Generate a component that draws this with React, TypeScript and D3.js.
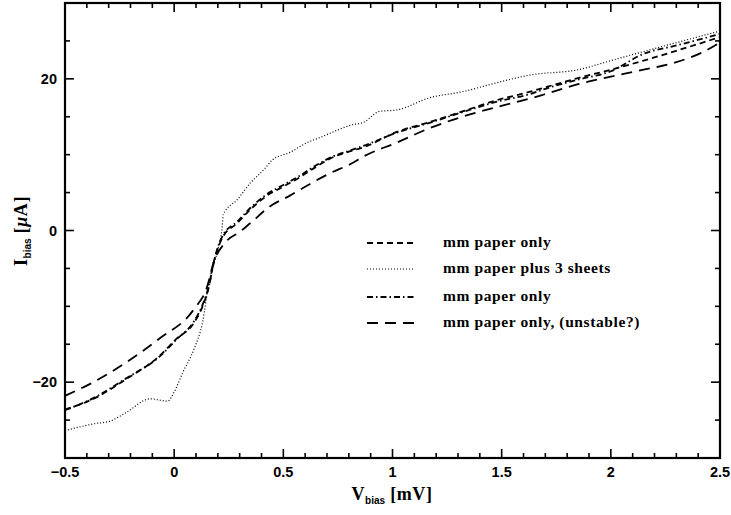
import React from "react";
import * as d3 from "d3";

const xTicks = [-0.5, 0, 0.5, 1, 1.5, 2, 2.5];
const xTickLabels = ["\u22120.5", "0", "0.5", "1", "1.5", "2", "2.5"];
const yTicks = [-20, 0, 20];
const yTickLabels = ["\u221220", "0", "20"];

const seriesLabels = [
  "mm paper only",
  "mm paper plus 3 sheets",
  "mm paper only",
  "mm paper only, (unstable?)",
];

const dashedV = [-0.5, -0.37, -0.22, -0.07, 0.01, 0.09, 0.13, 0.16, 0.18, 0.2, 0.22, 0.29, 0.35, 0.42, 0.5, 0.58, 0.65, 0.73, 0.8, 0.87, 1.02, 1.17, 1.32, 1.48, 1.63, 1.69, 1.85, 2.0, 2.15, 2.3, 2.5];
const dashedI = [-23.6, -22.2, -19.6, -16.6, -14.3, -12.2, -10, -7.3, -4.3, -2.4, -1.0, 1.0, 2.8, 4.5, 5.8, 7.1, 8.4, 9.7, 10.4, 11, 13, 14.3, 15.7, 17.2, 18.3, 18.8, 20.1, 21.2, 22.4, 23.7, 25.5];

const dottedV = [-0.5, -0.37, -0.29, -0.22, -0.11, -0.03, 0.0, 0.04, 0.09, 0.13, 0.16, 0.2, 0.22, 0.225, 0.29, 0.35, 0.41, 0.45, 0.53, 0.61, 0.68, 0.72, 0.81, 0.87, 0.94, 1.02, 1.17, 1.32, 1.48, 1.63, 1.85, 2.0, 2.15, 2.5];
const dottedI = [-26.4, -25.5, -25.1, -24, -22.2, -22.5, -21.3, -18.7, -15.7, -12.1, -6.8, -2.5, 0.5, 2.1, 4.1, 6.3, 8, 9.3, 10.3, 11.6, 12.4, 12.9, 13.9, 14.3, 15.7, 15.9, 17.5, 18.3, 19.5, 20.5, 21.2, 22.4, 23.6, 26.3];

const dashDotV = [-0.5, -0.37, -0.22, -0.07, 0.01, 0.09, 0.13, 0.16, 0.18, 0.2, 0.22, 0.29, 0.35, 0.42, 0.5, 0.58, 0.65, 0.73, 0.8, 0.87, 1.02, 1.17, 1.32, 1.48, 1.63, 1.69, 1.85, 2.0, 2.15, 2.3, 2.5];
const dashDotI = [-23.7, -22.1, -19.5, -16.7, -14.4, -12.0, -9.8, -7.2, -4.4, -2.2, -0.8, 1.2, 3.0, 4.7, 6.0, 7.3, 8.6, 9.8, 10.5, 11.2, 12.9, 14.2, 15.6, 17.0, 18.0, 18.6, 19.9, 21.0, 23.3, 24.4, 25.9];

const longDashV = [-0.5, -0.37, -0.22, -0.07, 0.09, 0.15, 0.18, 0.24, 0.3, 0.35, 0.44, 0.53, 0.62, 0.71, 0.81, 0.87, 1.02, 1.17, 1.32, 1.48, 1.63, 1.69, 1.85, 2.0, 2.15, 2.3, 2.42, 2.5];
const longDashI = [-21.8, -20, -17.4, -14.3, -10.4, -7.5, -4.3, -1.4, -0.2, 1.0, 3.2, 4.6, 6.1, 7.5, 8.8, 9.8, 11.6, 13.5, 15.0, 16.3, 17.4, 17.9, 19.3, 20.3, 21.2, 22.2, 23.5, 24.8];

const W = 731;
const H = 515;
const margin = { left: 65, right: 10, top: 3, bottom: 57 };

const styles = [
  { dash: "6,4", width: 1.8 },
  { dash: "1,2", width: 1.2 },
  { dash: "6,3,1.5,3", width: 1.8 },
  { dash: "11,7", width: 1.8 },
];

export default function App() {
  const x = d3.scaleLinear().domain([-0.5, 2.5]).range([margin.left, W - margin.right - 1]);
  const y = d3.scaleLinear().domain([-30, 30]).range([H - margin.bottom, margin.top]);

  const series = [
    { v: dashedV, i: dashedI },
    { v: dottedV, i: dottedI },
    { v: dashDotV, i: dashDotI },
    { v: longDashV, i: longDashI },
  ];

  const line = d3
    .line<[number, number]>()
    .x((d) => x(d[0]))
    .y((d) => y(d[1]))
    .curve(d3.curveMonotoneX);

  const x0 = x(-0.5), x1 = x(2.5), y0 = y(-30), y1 = y(30);
  const xMinor = d3.range(-5, 26).map((k) => k / 10);
  const yMinor = d3.range(-30, 31, 5);
  const isMajorX = (v: number) => Math.abs(v * 2 - Math.round(v * 2)) < 1e-6;
  const isMajorY = (v: number) => v % 20 === 0;

  const tickFont = "'Liberation Sans', Arial, sans-serif";
  const serif = "'Liberation Serif', 'Times New Roman', serif";

  const legendX0 = 367, legendX1 = 415, legendTextX = 443;
  const legendY = [243, 269, 297, 323];

  return (
    <svg width={W} height={H} style={{ position: "absolute", left: 0, top: 0, background: "#fff" }}>
      <rect x={0} y={0} width={W} height={H} fill="#fff" />
      <defs>
        <clipPath id="plotclip">
          <rect x={x0} y={y1} width={x1 - x0} height={y0 - y1} />
        </clipPath>
      </defs>
      {/* ticks */}
      <g stroke="#000" strokeWidth={1.6}>
        {xMinor.map((v, k) => {
          const len = isMajorX(v) ? 9 : 5;
          return (
            <g key={"xt" + k}>
              <line x1={x(v)} x2={x(v)} y1={y0} y2={y0 - len} />
              <line x1={x(v)} x2={x(v)} y1={y1} y2={y1 + len} />
            </g>
          );
        })}
        {yMinor.map((v, k) => {
          const len = isMajorY(v) ? 9 : 5;
          return (
            <g key={"yt" + k}>
              <line x1={x0} x2={x0 + len} y1={y(v)} y2={y(v)} />
              <line x1={x1} x2={x1 - len} y1={y(v)} y2={y(v)} />
            </g>
          );
        })}
      </g>
      <rect x={x0} y={y1} width={x1 - x0} height={y0 - y1} fill="none" stroke="#000" strokeWidth={2.2} />
      {/* tick labels */}
      <g fontFamily={tickFont} fontWeight="bold" fontSize={14.5} fill="#000">
        {xTicks.map((v, k) => (
          <text key={"xl" + k} x={x(v)} y={477} textAnchor="middle">
            {xTickLabels[k]}
          </text>
        ))}
        {yTicks.map((v, k) => (
          <text key={"yl" + k} x={57} y={y(v) + 5} textAnchor="end">
            {yTickLabels[k]}
          </text>
        ))}
      </g>
      {/* axis labels */}
      <text x={392} y={500} textAnchor="middle" fontFamily={serif} fontWeight="bold" fontSize={18} letterSpacing={0.6} fill="#000">
        V
        <tspan fontFamily={tickFont} fontSize={10} dy={4} letterSpacing={0}>bias</tspan>
        <tspan dy={-4}> [mV]</tspan>
      </text>
      <text
        transform={`translate(27, 231) rotate(-90)`}
        textAnchor="middle"
        fontFamily={serif}
        fontWeight="bold"
        fontSize={18}
        letterSpacing={0.6}
        fill="#000"
      >
        I
        <tspan fontFamily={tickFont} fontSize={10} dy={4} letterSpacing={0}>bias</tspan>
        <tspan dy={-4}> [</tspan>
        <tspan fontStyle="italic">{"\u03bc"}</tspan>
        <tspan>A]</tspan>
      </text>
      {/* curves */}
      <g clipPath="url(#plotclip)">
        {series.map((s, k) => (
          <path
            key={"s" + k}
            d={line(s.v.map((v, j) => [v, s.i[j]] as [number, number])) || ""}
            fill="none"
            stroke="#000"
            strokeWidth={styles[k].width}
            strokeDasharray={styles[k].dash}
          />
        ))}
      </g>
      {/* legend */}
      {seriesLabels.map((lab, k) => (
        <g key={"lg" + k}>
          <line
            x1={legendX0}
            x2={legendX1}
            y1={legendY[k]}
            y2={legendY[k]}
            stroke="#000"
            strokeWidth={styles[k].width}
            strokeDasharray={styles[k].dash}
          />
          <text x={legendTextX} y={legendY[k] + 4} fontFamily={serif} fontWeight="bold" fontSize={15.5} letterSpacing={0.6} fill="#000">
            {lab}
          </text>
        </g>
      ))}
    </svg>
  );
}
